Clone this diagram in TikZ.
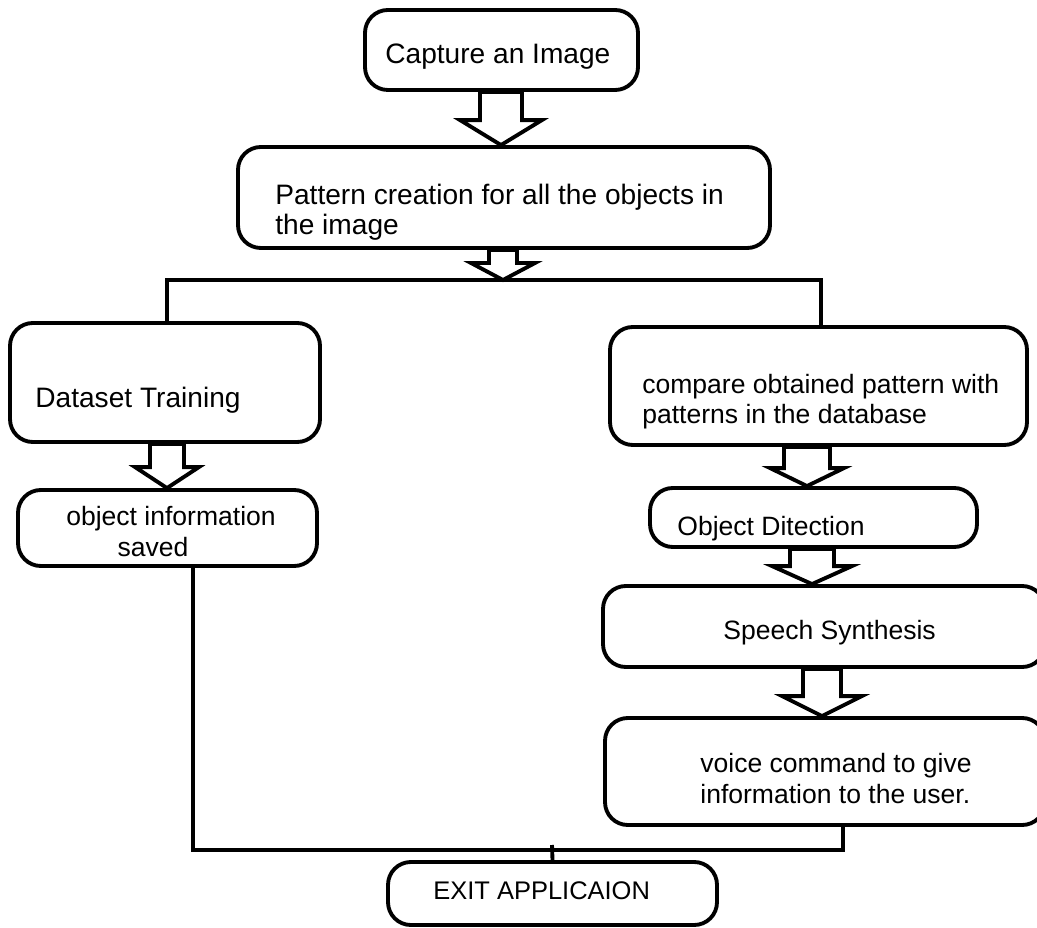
\documentclass[tikz,border=0pt]{standalone}
\usepackage{fontspec}
\setmainfont{Liberation Sans}
\usetikzlibrary{fit,calc}

\tikzset{
	box/.style={draw,line width=2.2pt,rounded corners=13pt,inner sep=0pt},
	txt/.style={font=\fontsize{#1}{17.3}\selectfont,anchor=base west,align=left,inner sep=0pt},
	txt/.default=15.1,
	blk/.style={draw,line width=2.2pt,fill=white},
	link/.style={draw,line width=2.2pt}
}
\newcommand{\blockarr}[6]{%
	\draw[blk] let \p1=(#1), \p2=(#2), \p3=(#3,0) in
		(\x3-#4*0.569pt,\y1) -- (\x3-#4*0.569pt,\y2+#6*0.569pt) -- (\x3-#5*0.569pt,\y2+#6*0.569pt) -- (\x3,\y2)
		-- (\x3+#5*0.569pt,\y2+#6*0.569pt) -- (\x3+#4*0.569pt,\y2+#6*0.569pt) -- (\x3+#4*0.569pt,\y1) -- cycle;}

\begin{document}
\begin{tikzpicture}[x=0.02cm,y=-0.02cm]
	\useasboundingbox (0,0) rectangle (1037,928);

	\node [box,fit={(365,10) (638,90)}] (capture) {};
	\node [box,fit={(238,147) (770,248)}] (pattern) {};
	\node [box,fit={(10,323) (320,442)}] (dataset) {};
	\node [box,fit={(18,490) (317,566)}] (objinfo) {};
	\node [box,fit={(610,327) (1027,445)}] (compare) {};
	\node [box,fit={(650,488) (977,547)}] (detect) {};
	\node [box,fit={(603,586) (1045,667)}] (speech) {};
	\node [box,fit={(605,718) (1045,825)}] (voice) {};
	\node [box,fit={(388,862) (717,925)}] (exit) {};

	\node [txt=16] (capturetxt) at (385,64) {Capture an Image};
	\node [txt=16] (patterntxt) at (275,235) {Pattern creation for all the objects in\\the image};
	\node [txt=16] (datasettxt) at (35,408) {Dataset Training};
	\node [txt,anchor=base,align=center] (objinfotxt) at (171,556) {object information\\saved\hspace*{0.72cm}};
	\node [txt] (comparetxt) at (642,424) {compare obtained pattern with\\patterns in the database};
	\node [txt] (detecttxt) at (677,536) {Object Ditection};
	\node [txt] (speechtxt) at (723,639) {Speech Synthesis};
	\node [txt] (voicetxt) at (700,803) {voice command to give\\information to the user.};
	\node [txt=14.5] (exittxt) at (433,899) {EXIT APPLICAION};

	\coordinate (split) at (503,280);
	\coordinate (splitl) at (167,280);
	\coordinate (splitr) at (821,280);
	\coordinate (joinl) at (193,850);
	\coordinate (joinr) at (843,850);
	\coordinate (join) at (552,845);

	\draw [link] (dataset.north -| splitl) -- (splitl) -- (splitr) -- (compare.north -| splitr);
	\draw [link] (objinfo.south -| joinl) -- (joinl) -- (joinr) -- (voice.south -| joinr);
	\draw [link] (join) -- (exit.north);

	\blockarr{capture.south}{pattern.north}{501}{21}{41}{25}
	\blockarr{pattern.south}{split}{503}{14}{32}{17}
	\blockarr{dataset.south}{objinfo.north}{167}{17}{32}{21}
	\blockarr{compare.south}{detect.north}{807}{23}{37}{18}
	\blockarr{detect.south}{speech.north}{812}{22}{40}{18}
	\blockarr{speech.south}{voice.north}{822}{19}{40}{20}
\end{tikzpicture}
\end{document}
